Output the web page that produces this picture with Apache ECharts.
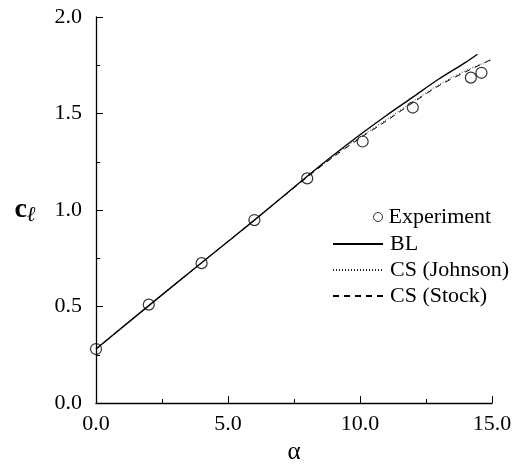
<!DOCTYPE html>
<html>
<head>
<meta charset="utf-8">
<script src="https://cdn.jsdelivr.net/npm/echarts@6/dist/echarts.min.js"></script>
<style>
  html, body { margin: 0; padding: 0; background: #fff; }
  #chart { width: 518px; height: 470px; }
</style>
</head>
<body>
<div id="chart"></div>
<script>
// Lift coefficient versus angle of attack
const FONT = '"Liberation Serif", "Times New Roman", serif';

const expAlpha = [0, 2, 4, 6, 8, 10.1, 12, 14.2, 14.6];
const expCl    = [0.28, 0.51, 0.725, 0.948, 1.164, 1.355, 1.531, 1.686, 1.711];

const blAlpha = [0, 2, 4, 6, 8, 9, 10, 11, 12, 13, 14, 14.45];
const blCl    = [0.28, 0.505, 0.727, 0.948, 1.175, 1.285, 1.39, 1.49, 1.585, 1.68, 1.765, 1.807];

const johnsonAlpha = [0, 2, 4, 6, 8, 9, 10, 11, 12, 13, 14, 15];
const johnsonCl    = [0.28, 0.505, 0.727, 0.948, 1.172, 1.28, 1.378, 1.468, 1.562, 1.65, 1.722, 1.778];

const stockAlpha = [0, 2, 4, 6, 8, 9, 10, 11, 12, 13, 14, 15];
const stockCl    = [0.28, 0.505, 0.727, 0.948, 1.17, 1.276, 1.372, 1.462, 1.556, 1.645, 1.716, 1.782];

const xTicks = [0, 5, 10, 15];
const yTicks = [0, 0.5, 1.0, 1.5, 2.0];

const pairs = (xs, ys) => xs.map((x, i) => [x, ys[i]]);

const chart = echarts.init(document.getElementById('chart'), null, { renderer: 'canvas' });

const axisCommon = {
  axisLine: { show: true, onZero: false, lineStyle: { color: '#000', width: 1.3 } },
  axisTick: { show: true, inside: true, length: 7, lineStyle: { color: '#000', width: 1 } },
  minorTick: { show: true, splitNumber: 2, length: 4, lineStyle: { color: '#000', width: 1 } },
  splitLine: { show: false },
  axisLabel: { color: '#000', fontFamily: FONT, fontSize: 22 }
};

chart.setOption({
  animation: false,
  backgroundColor: '#fff',
  grid: { left: 96, top: 17, right: 26, bottom: 59, containLabel: false },
  xAxis: Object.assign({}, axisCommon, {
    type: 'value',
    min: xTicks[0], max: xTicks[xTicks.length - 1], interval: 5,
    name: 'α', nameLocation: 'middle', nameGap: 36,
    nameTextStyle: { color: '#000', fontFamily: FONT, fontSize: 25 },
    axisLabel: Object.assign({}, axisCommon.axisLabel, {
      margin: 10,
      formatter: v => v.toFixed(1)
    })
  }),
  yAxis: Object.assign({}, axisCommon, {
    type: 'value',
    min: yTicks[0], max: yTicks[yTicks.length - 1], interval: 0.5,
    name: '{c|c}{l|ℓ}', nameLocation: 'middle', nameGap: 60, nameRotate: 0,
    nameTextStyle: {
      color: '#000', fontFamily: FONT,
      rich: {
        c: { fontSize: 28, fontWeight: 'bold', fontFamily: FONT, color: '#000' },
        l: { fontSize: 21, fontWeight: 'bold', fontStyle: 'italic', fontFamily: FONT, color: '#000', padding: [12, 0, 0, 0] }
      }
    },
    axisLabel: Object.assign({}, axisCommon.axisLabel, {
      margin: 14,
      formatter: v => v.toFixed(1)
    })
  }),
  legend: [
    {
      data: ['Experiment'],
      orient: 'vertical', left: 368, top: 201,
      itemWidth: 9, itemHeight: 9, itemGap: 4,
      itemStyle: { color: 'rgba(0,0,0,0)', borderColor: '#000', borderWidth: 1 },
      textStyle: { color: '#000', fontFamily: FONT, fontSize: 22, padding: [0, 0, 0, 1] }
    },
    {
      data: ['BL', 'CS (Johnson)', 'CS (Stock)'],
      orient: 'vertical', left: 327, top: 228,
      itemWidth: 50, itemHeight: 12, itemGap: 4,
      itemStyle: { color: 'rgba(0,0,0,0)', borderWidth: 0 },
      textStyle: { color: '#000', fontFamily: FONT, fontSize: 22, padding: [0, 0, 0, 2] }
    }
  ],
  series: [
    {
      name: 'Experiment', type: 'scatter',
      data: pairs(expAlpha, expCl),
      symbol: 'circle', symbolSize: 11,
      itemStyle: { color: 'rgba(0,0,0,0)', borderColor: '#000', borderWidth: 1.2 },
      z: 5
    },
    {
      name: 'BL', type: 'line',
      data: pairs(blAlpha, blCl),
      symbol: 'none', smooth: 0.3,
      lineStyle: { color: '#000', width: 1.4, type: 'solid' },
      itemStyle: { color: '#000' }
    },
    {
      name: 'CS (Johnson)', type: 'line',
      data: pairs(johnsonAlpha, johnsonCl),
      symbol: 'none', smooth: 0.3,
      lineStyle: { color: '#222', width: 1, type: [1, 2] },
      itemStyle: { color: '#222' }
    },
    {
      name: 'CS (Stock)', type: 'line',
      data: pairs(stockAlpha, stockCl),
      symbol: 'none', smooth: 0.3,
      lineStyle: { color: '#000', width: 1, type: [6, 5] },
      itemStyle: { color: '#000' }
    }
  ]
});
</script>
</body>
</html>
